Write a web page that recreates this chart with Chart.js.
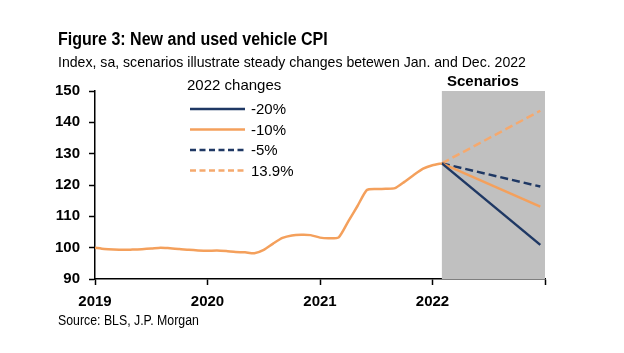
<!DOCTYPE html>
<html>
<head>
<meta charset="utf-8">
<script src="https://cdn.jsdelivr.net/npm/chart.js@4"></script>
<style>
  body { margin: 0; background: #fff; }
  #wrap { position: relative; width: 624px; height: 353px; font-family: "Liberation Sans Narrow", "Liberation Sans", Arial, sans-serif; }
  canvas { position: absolute; left: 0; top: 0; }
  .txt { position: absolute; left: 58px; white-space: nowrap; color: #000; transform-origin: left center; }
  #title { top: 29px; font-size: 18px; font-weight: bold; transform: scaleX(0.89); }
  #sub { top: 53px; font-size: 15px; transform: scaleX(0.94); }
  #src { top: 312px; font-size: 14px; transform: scaleX(0.88); }
</style>
</head>
<body>
<div id="wrap">
  <canvas id="cpiChart" width="624" height="353"></canvas>
  <div class="txt" id="title">Figure 3: New and used vehicle CPI</div>
  <div class="txt" id="sub">Index, sa, scenarios illustrate steady changes betewen Jan. and Dec. 2022</div>
  <div class="txt" id="src">Source: BLS, J.P. Morgan</div>
</div>
<script>
// ====== Data ======
// months counted from Jan 2019 (0) to Feb 2022 (37)
const histMonths = [];
for (let i = 0; i <= 37; i++) histMonths.push(i);
const histValues = [
  100.0, 99.6, 99.4, 99.3, 99.4, 99.5, 99.7, 100.0, 99.8, 99.6, 99.3, 99.1,
  99.0, 99.1, 98.9, 98.6, 98.5, 98.2, 99.3, 101.3, 103.1, 103.9, 104.1, 104.0,
  103.2, 103.0, 103.3, 108.3, 113.3, 118.4, 118.7, 118.8, 119.0, 121.0, 123.2, 125.2,
  126.3, 126.9
];

const scenarioLabels = ['-20%', '-10%', '-5%', '13.9%'];
const scenarioMonths = [37, 47.5];
const scenarioEnd = [100.9, 113.1, 119.5, 143.7];
const scenarioColors = ['#1f3864', '#f4a05c', '#1f3864', '#f5a96e'];
const scenarioDashed = [false, false, true, true];

const yearLabels = ['2019', '2020', '2021', '2022', ''];
const shadeStart = 37;

const FONT = '"Liberation Sans Narrow", "Liberation Sans", Arial, sans-serif';

const datasets = [{
  label: 'history',
  data: histMonths.map((m, i) => ({ x: m, y: histValues[i] })),
  borderColor: '#f4a05c',
  borderWidth: 2.5,
  pointRadius: 0,
  tension: 0.2
}];
scenarioLabels.forEach((lab, i) => {
  datasets.push({
    label: lab,
    data: [
      { x: scenarioMonths[0], y: histValues[histValues.length - 1] },
      { x: scenarioMonths[1], y: scenarioEnd[i] }
    ],
    borderColor: scenarioColors[i],
    borderWidth: 2.5,
    borderDash: scenarioDashed[i] ? [8, 4] : [],
    pointRadius: 0
  });
});

// ====== Shading, legend, labels ======
const extras = {
  id: 'extras',
  beforeDatasetsDraw(chart) {
    const { ctx, chartArea, scales } = chart;
    const x0 = scales.x.getPixelForValue(shadeStart);
    ctx.save();
    ctx.fillStyle = '#c0c0c0';
    ctx.fillRect(x0, chartArea.top, chartArea.right - x0, chartArea.bottom - chartArea.top);
    ctx.restore();
  },
  afterDraw(chart) {
    const { ctx, scales } = chart;
    const x0 = scales.x.getPixelForValue(shadeStart);
    ctx.save();
    ctx.fillStyle = '#000';
    ctx.font = 'bold 15px ' + FONT;
    ctx.textAlign = 'center';
    ctx.textBaseline = 'middle';
    ctx.fillText('Scenarios', x0 + 41, 82);

    ctx.font = '15px ' + FONT;
    ctx.textAlign = 'left';
    ctx.fillText('2022 changes', 187, 86);
    scenarioLabels.forEach((lab, i) => {
      const y = 109 + i * 20.5;
      const ds = chart.data.datasets[i + 1];
      ctx.strokeStyle = ds.borderColor;
      ctx.lineWidth = 2.5;
      ctx.setLineDash(scenarioDashed[i] ? [6, 3.5] : []);
      ctx.beginPath();
      ctx.moveTo(190, y);
      ctx.lineTo(245, y);
      ctx.stroke();
      ctx.fillText(lab, 251, y + 1);
    });
    ctx.restore();
  }
};

const ctx = document.getElementById('cpiChart').getContext('2d');
const cpiChart = new Chart(ctx, {
  type: 'line',
  data: { datasets: datasets },
  options: {
    responsive: false,
    animation: false,
    layout: { padding: { left: 45, right: 79, top: 91, bottom: 44 } },
    plugins: { legend: { display: false }, tooltip: { enabled: false } },
    scales: {
      x: {
        type: 'linear',
        min: 0,
        max: 48,
        afterFit(scale) { scale.height = 30; },
        border: { color: '#000', width: 1.5 },
        grid: { drawOnChartArea: false, drawTicks: true, tickLength: 6, tickColor: '#000', tickWidth: 1.5 },
        ticks: {
          stepSize: 12,
          padding: 8,
          color: '#000',
          font: { family: FONT, size: 15, weight: 'bold' },
          callback: (v) => yearLabels[v / 12]
        }
      },
      y: {
        min: 90,
        max: 150,
        afterFit(scale) { scale.width = 50; },
        border: { color: '#000', width: 1.5 },
        grid: { drawOnChartArea: false, drawTicks: true, tickLength: 6, tickColor: '#000', tickWidth: 1.5 },
        ticks: {
          stepSize: 10,
          padding: 9,
          color: '#000',
          font: { family: FONT, size: 15, weight: 'bold' }
        }
      }
    }
  },
  plugins: [extras]
});
</script>
</body>
</html>
